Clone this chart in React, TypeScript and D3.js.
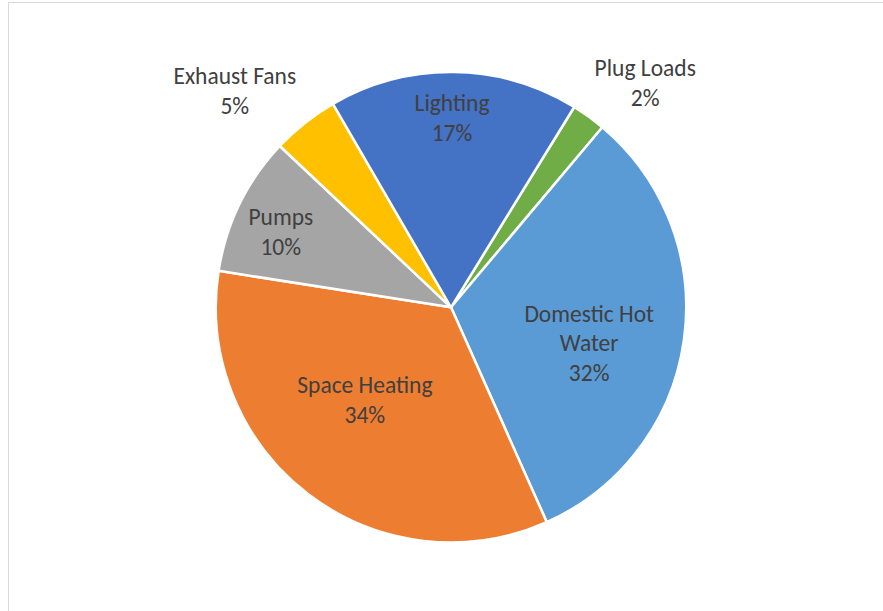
import React from "react";
import * as d3 from "d3";

const categories = ["Plug Loads", "Domestic Hot Water", "Space Heating", "Pumps", "Exhaust Fans", "Lighting"];
const values = [2.35, 32.2, 34.15, 9.55, 4.6, 17.15];
const colors = ["#70AD47", "#5B9BD5", "#ED7D31", "#A5A5A5", "#FFC000", "#4472C4"];

// label placement (polar: angle in degrees clockwise from 12 o'clock, radius as fraction of pie radius)
const labelPlacement: Record<string, [number, number]> = {
  "Plug Loads": [40.9, 1.261],
  "Domestic Hot Water": [104.6, 0.607],
  "Space Heating": [222.8, 0.539],
  "Pumps": [293.8, 0.791],
  "Exhaust Fans": [315, 1.3],
  "Lighting": [0.3, 0.804],
};

const W = 883;
const H = 611;
const cx = 451;
const cy = 307.3;
const R = 235.2;
const startDeg = 31.6;
const fontSize = 23.5;
const pitch = 29.5;

function wrap(name: string): string[] {
  if (name.length <= 14) return [name];
  const i = name.lastIndexOf(" ");
  return [name.slice(0, i), name.slice(i + 1)];
}

export default function App() {
  const total = d3.sum(values);
  const start = (startDeg * Math.PI) / 180;
  const pie = d3
    .pie<number>()
    .sort(null)
    .value((d) => d)
    .startAngle(start)
    .endAngle(start + 2 * Math.PI);
  const arcs = pie(values);
  const arc = d3.arc<d3.PieArcDatum<number>>().innerRadius(0).outerRadius(R);

  return (
    <div style={{ position: "fixed", left: 0, top: 0, width: W, height: H, background: "#fff" }}>
      <svg width={W} height={H} style={{ display: "block" }}>
        <rect x={8.5} y={2.5} width={1200} height={1200} fill="#fff" stroke="#D9D9D9" strokeWidth={1} />
        <g transform={`translate(${cx},${cy})`}>
          {arcs.map((a, i) => (
            <path key={categories[i]} d={arc(a) || ""} fill={colors[i]} stroke="#fff" strokeWidth={2.5} strokeLinejoin="round" />
          ))}
        </g>
        {arcs.map((a, i) => {
          const name = categories[i];
          const [deg, frac] = labelPlacement[name];
          const th = (deg * Math.PI) / 180;
          const x = cx + Math.sin(th) * frac * R;
          const y = cy - Math.cos(th) * frac * R;
          const pct = Math.round((values[i] / total) * 100) + "%";
          const lines = [...wrap(name), pct];
          const n = lines.length;
          return (
            <text
              key={name}
              textAnchor="middle"
              fontFamily="Carlito, Calibri, 'Open Sans', sans-serif"
              fontSize={fontSize}
              fill="#404040"
            >
              {lines.map((l, j) => (
                <tspan key={j} x={x} y={y - ((n - 1) / 2) * pitch + j * pitch + fontSize * 0.33}>
                  {l}
                </tspan>
              ))}
            </text>
          );
        })}
      </svg>
    </div>
  );
}
